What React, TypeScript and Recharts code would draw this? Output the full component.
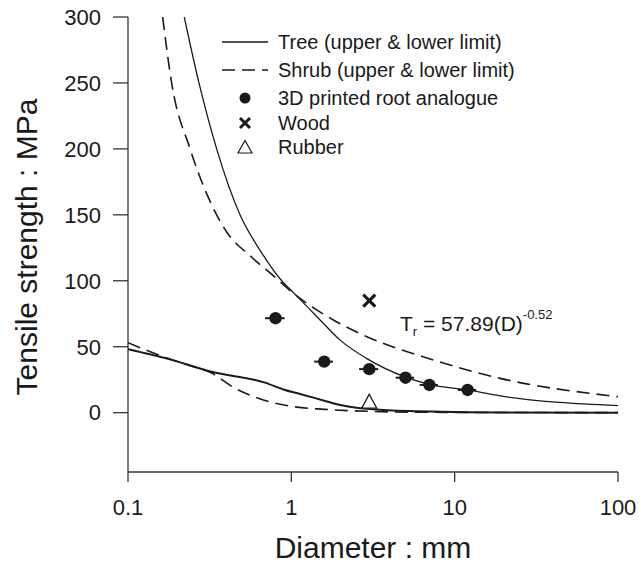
import { ScatterChart, Scatter, XAxis, YAxis, ErrorBar, Legend, Customized } from 'recharts';

const FONT = '"Liberation Sans", Arial, Helvetica, sans-serif';
const INK = '#1a1a1a';
const AXIS = '#333';

// axis ticks
const xTicks = [0.1, 1, 10, 100];
const yTicks = [0, 50, 100, 150, 200, 250, 300];

// tree limits (diameter mm, tensile strength MPa)
const treeUpperD = [0.221, 0.272, 0.349, 0.485, 0.66, 0.873, 1.03, 1.5, 1.99, 2.9, 5.0, 7.0, 11.9, 19, 100];
const treeUpperT = [300, 250, 200, 150, 121, 100, 91, 70.3, 55, 41, 27, 21.5, 17.2, 12.7, 5.3];
const treeLowerD = [0.1, 0.185, 0.325, 0.69, 0.914, 1.13, 1.61, 1.99, 3.65, 8.3, 20, 100];
const treeLowerT = [48, 40, 31, 22.8, 17.2, 14.2, 8.9, 5.8, 2, 0.7, 0.2, 0];

// shrub limits
const shrubUpperD = [0.163, 0.185, 0.24, 0.349, 0.402, 0.57, 0.79, 1.03, 1.81, 2.9, 7.4, 19, 100];
const shrubUpperT = [300, 250, 200, 150, 137, 118, 103, 90.5, 70.3, 57.6, 40, 26, 12.1];
const shrubLowerD = [0.1, 0.177, 0.25, 0.325, 0.452, 0.628, 1.0, 1.6, 3, 6, 100];
const shrubLowerT = [53, 41, 35, 30, 18.5, 10.9, 4.8, 2.5, 1, 0.3, 0];

// measured points
const rootD = [0.8, 1.59, 3.0, 5.0, 7.0, 12.0];
const rootT = [71.6, 38.7, 33, 26.5, 21, 17.2];
const rootErr = [0.11, 0.21, 0.4, 0.65, 0.9, 1.55];
const woodD = [3.0];
const woodT = [85];
const rubberD = [3.0];
const rubberT = [8.3];

const zip = (d: number[], t: number[]) => d.map((x, i) => ({ x, y: t[i] }));

const roots = rootD.map((x, i) => ({ x, y: rootT[i], err: rootErr[i] }));

const DASH = '13 7';

function NoDot() {
  return <g />;
}

function Dot(p: any) {
  return <circle cx={p.cx} cy={p.cy} r={6.2} fill={INK} />;
}

function Cross(p: any) {
  const s = 6;
  const { cx, cy } = p;
  return (
    <path
      d={`M${cx - s},${cy - s}L${cx + s},${cy + s}M${cx + s},${cy - s}L${cx - s},${cy + s}`}
      stroke={INK}
      strokeWidth={3.2}
    />
  );
}

function Tri(p: any) {
  const { cx, cy } = p;
  return (
    <path
      d={`M${cx},${cy - 7.5}L${cx + 7.5},${cy + 6.5}L${cx - 7.5},${cy + 6.5}Z`}
      fill="#fff"
      stroke={INK}
      strokeWidth={1.3}
    />
  );
}

function LegendBox() {
  const rows = [
    { y: 41.7, label: 'Tree (upper & lower limit)', icon: <line x1={0} x2={46} y1={8} y2={8} stroke={INK} strokeWidth={1.6} /> },
    { y: 70, label: 'Shrub (upper & lower limit)', icon: <line x1={0} x2={46} y1={8} y2={8} stroke={INK} strokeWidth={1.6} strokeDasharray={DASH} /> },
    { y: 98.3, label: '3D printed root analogue', icon: <circle cx={23} cy={8} r={5.5} fill={INK} /> },
    { y: 123.3, label: 'Wood', icon: <path d="M18,3L28,13M28,3L18,13" stroke={INK} strokeWidth={3} /> },
    { y: 146.7, label: 'Rubber', icon: <path d="M23,1.5L30,14L16,14Z" fill="#fff" stroke={INK} strokeWidth={1.2} /> },
  ];
  return (
    <div style={{ position: 'relative', width: 520, height: 170, fontFamily: FONT, fontSize: 20, color: INK }}>
      {rows.map((r) => (
        <div
          key={r.label}
          style={{ position: 'absolute', left: 222, top: r.y - 12, height: 24, display: 'flex', alignItems: 'center', whiteSpace: 'nowrap' }}
        >
          <svg width={46} height={16} style={{ display: 'block' }}>{r.icon}</svg>
          <span style={{ marginLeft: 10, lineHeight: '24px' }}>{r.label}</span>
        </div>
      ))}
    </div>
  );
}

function Annotations() {
  return (
    <g fontFamily={FONT}>
      <text x={400} y={331} fontSize={21} fill={INK}>
        T<tspan fontSize={13} dy={5} fill={INK}>r</tspan>
        <tspan fontSize={21} dy={-5} fill={INK}> = 57.89(D)</tspan>
        <tspan fontSize={13} dy={-12} fill={INK}>-0.52</tspan>
      </text>
      <text x={373} y={558} fontSize={30} textAnchor="middle" fill={INK}>Diameter : mm</text>
      <text x={37} y={247} fontSize={30} textAnchor="middle" fill={INK} transform="rotate(-90 37 247)">
        Tensile strength : MPa
      </text>
    </g>
  );
}

const tickStyle = { fontSize: 22, fill: INK, fontFamily: FONT };

export default function App() {
  return (
    <div style={{ position: 'absolute', left: 0, top: 0, background: '#fff' }}>
      <ScatterChart width={641} height={576} margin={{ top: 17, right: 23, bottom: 0, left: 0 }}>
        <XAxis
          dataKey="x"
          type="number"
          scale="log"
          domain={[0.1, 100]}
          ticks={xTicks}
          allowDataOverflow
          height={104}
          tickSize={10}
          tickMargin={17}
          tick={tickStyle}
          stroke={AXIS}
          strokeWidth={1.3}
        />
        <XAxis
          xAxisId="top"
          orientation="top"
          dataKey="x"
          type="number"
          scale="log"
          domain={[0.1, 100]}
          height={0}
          tick={false}
          tickLine={false}
          stroke={AXIS}
          strokeWidth={1.3}
        />
        <YAxis
          dataKey="y"
          type="number"
          domain={[-45, 300]}
          ticks={yTicks}
          allowDataOverflow
          width={128}
          tickSize={15}
          tickMargin={12}
          tick={tickStyle}
          stroke={AXIS}
          strokeWidth={1.3}
        />
        <YAxis
          yAxisId="right"
          orientation="right"
          dataKey="y"
          type="number"
          domain={[-45, 300]}
          width={0}
          tick={false}
          tickLine={false}
          stroke={AXIS}
          strokeWidth={1.3}
        />

        <Scatter data={zip(treeUpperD, treeUpperT)} line={{ stroke: INK, strokeWidth: 1.3 }} lineJointType="monotoneX" shape={NoDot} isAnimationActive={false} />
        <Scatter data={zip(treeLowerD, treeLowerT)} line={{ stroke: INK, strokeWidth: 2 }} lineJointType="monotoneX" shape={NoDot} isAnimationActive={false} />
        <Scatter data={zip(shrubUpperD, shrubUpperT)} line={{ stroke: INK, strokeWidth: 1.6, strokeDasharray: DASH }} lineJointType="monotoneX" shape={NoDot} isAnimationActive={false} />
        <Scatter data={zip(shrubLowerD, shrubLowerT)} line={{ stroke: INK, strokeWidth: 1.6, strokeDasharray: DASH }} lineJointType="monotoneX" shape={NoDot} isAnimationActive={false} />

        <Scatter data={roots} shape={Dot} isAnimationActive={false}>
          <ErrorBar dataKey="err" direction="x" width={0} stroke={INK} strokeWidth={2} />
        </Scatter>
        <Scatter data={zip(woodD, woodT)} shape={Cross} isAnimationActive={false} />
        <Scatter data={zip(rubberD, rubberT)} shape={Tri} isAnimationActive={false} />

        <Legend
          layout="vertical"
          align="center"
          verticalAlign="middle"
          wrapperStyle={{ left: 0, top: 0 }}
          content={() => <LegendBox />}
        />
        <Customized component={<Annotations />} />
      </ScatterChart>
    </div>
  );
}
